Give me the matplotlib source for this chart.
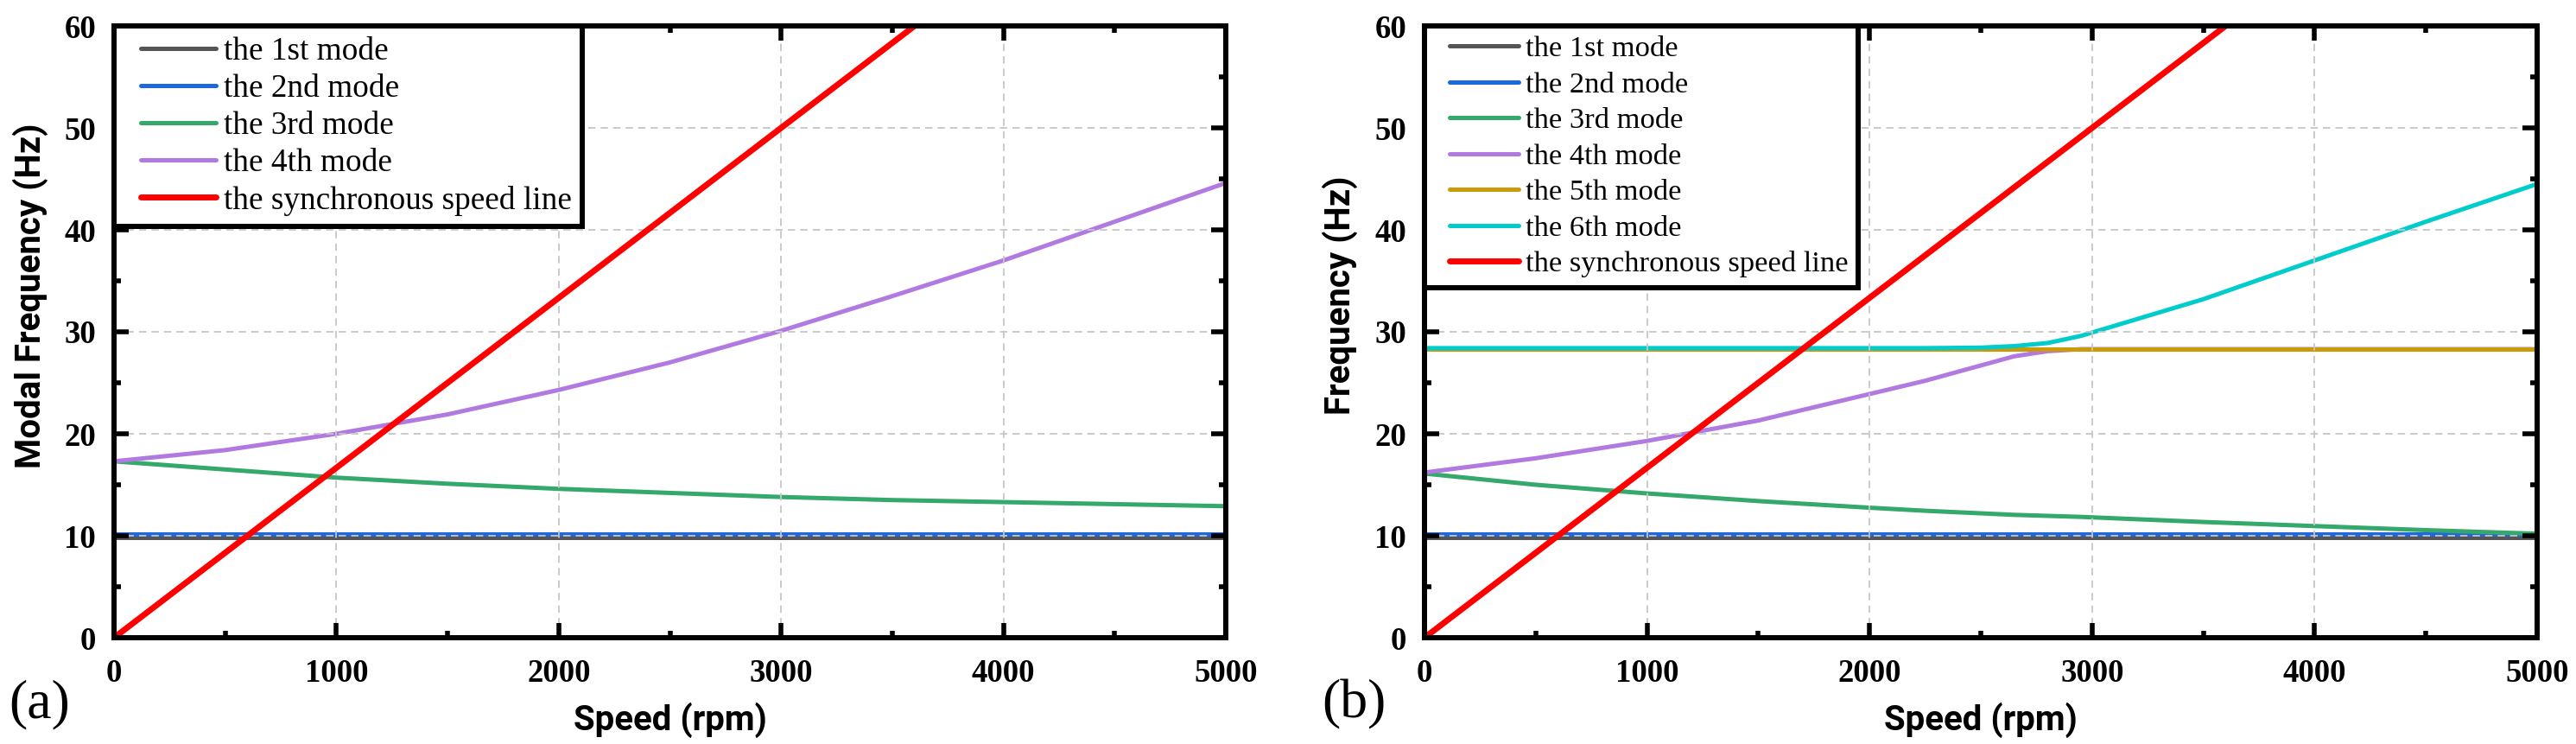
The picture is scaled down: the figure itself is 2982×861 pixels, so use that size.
import matplotlib
matplotlib.use("Agg")
import matplotlib.pyplot as plt
from matplotlib.ticker import MultipleLocator
from matplotlib.lines import Line2D
from matplotlib.legend_handler import HandlerLine2D

# ---------------- data ----------------
speed_a = [0, 500, 1000, 1500, 2000, 2500, 3000, 3500, 4000, 4500, 5000]
mode1_a = [9.8, 9.8, 9.8, 9.8, 9.8, 9.8, 9.8, 9.8, 9.8, 9.8, 9.8]
mode2_a = [10.15, 10.15, 10.15, 10.15, 10.15, 10.15, 10.15, 10.15, 10.15, 10.15, 10.15]
mode3_a = [17.3, 16.5, 15.7, 15.1, 14.6, 14.2, 13.8, 13.5, 13.3, 13.1, 12.9]
mode4_a = [17.3, 18.4, 20.0, 21.9, 24.3, 27.0, 30.1, 33.5, 37.0, 40.8, 44.6]

speed_b = [0, 500, 1000, 1500, 2000, 2250, 2500, 2650, 2800, 2950, 3500, 4000, 4500, 5000]
mode1_b = [9.8] * 14
mode2_b = [10.15] * 14
mode3_b = [16.1, 15.0, 14.15, 13.4, 12.75, 12.45, 12.2, 12.05, 11.95, 11.85, 11.35, 10.95, 10.55, 10.2]
mode4_b = [16.2, 17.6, 19.3, 21.3, 23.9, 25.2, 26.7, 27.6, 28.1, 28.3, 28.3, 28.3, 28.3, 28.3]
mode5_b = [28.3] * 14
mode6_b = [28.4, 28.4, 28.4, 28.4, 28.4, 28.4, 28.45, 28.6, 28.9, 29.6, 33.2, 37.0, 40.8, 44.5]

sync_speed = [0, 5000]
sync_freq = [0, 83.33]

labels_a = ["the 1st mode", "the 2nd mode", "the 3rd mode", "the 4th mode",
            "the synchronous speed line"]
labels_b = ["the 1st mode", "the 2nd mode", "the 3rd mode", "the 4th mode",
            "the 5th mode", "the 6th mode", "the synchronous speed line"]

x_ticks = [0, 1000, 2000, 3000, 4000, 5000]
y_ticks = [0, 10, 20, 30, 40, 50, 60]

colors = {"m1": "#555555", "m2": "#1c68dc", "m3": "#35a86c", "m4": "#b07ae0",
          "m5": "#cc9a06", "m6": "#00cccc", "sync": "#ff0000"}

# ---------------- figure ----------------
W, H, DPI = 2982, 861, 100
fig = plt.figure(figsize=(W / DPI, H / DPI), dpi=DPI)
fig.patch.set_facecolor("white")

serif = "Liberation Serif"
sans = "Roboto"
LW = 3.6
SYNC_LW = 5.0


def style_axes(ax, ylabel, leg_size, leg_spacing):
    ax.set_xlim(0, 5000)
    ax.set_ylim(0, 60)
    ax.set_xticks(x_ticks)
    ax.set_yticks(y_ticks)
    ax.xaxis.set_minor_locator(MultipleLocator(500))
    ax.yaxis.set_minor_locator(MultipleLocator(5))
    ax.tick_params(which="both", direction="in", top=True, right=True,
                   width=4.0, color="black")
    ax.tick_params(which="major", length=12, labelsize=26.5)
    ax.tick_params(axis="x", which="major", pad=17)
    ax.tick_params(axis="y", which="major", pad=15)
    ax.tick_params(which="minor", length=6)
    for lab in ax.get_xticklabels() + ax.get_yticklabels():
        lab.set_fontfamily(serif)
        lab.set_fontweight("bold")
    for s in ax.spines.values():
        s.set_linewidth(4.3)
        s.set_zorder(5)
    ax.set_axisbelow(False)
    ax.grid(True, which="major", color="#c6c6c6", linewidth=1.3,
            linestyle=(0, (4.7, 3.3)))
    ax.set_xlabel("Speed (rpm)", fontfamily=sans, fontweight="bold",
                  fontsize=29, va="center")
    ax.xaxis.set_label_coords(0.5, -0.135)
    ax.set_ylabel(ylabel, fontfamily=sans, fontweight="bold",
                  fontsize=29, va="center")
    ax.yaxis.set_label_coords(-0.0755, 0.559)
    leg = ax.legend(loc="upper left", bbox_to_anchor=(0, 1), borderaxespad=0,
                    prop={"family": serif, "size": leg_size},
                    handlelength=2.84, handletextpad=0.24,
                    labelspacing=leg_spacing,
                    borderpad=0.33, fancybox=False, framealpha=1,
                    edgecolor="black",
                    handler_map={Line2D: HandlerLine2D(xpad=0.5)})
    leg.get_frame().set_linewidth(4.3)
    leg.set_zorder(6)
    for ln in leg.get_lines():
        ln.set_solid_capstyle("round")


# panel (a)
ax1 = fig.add_axes([132 / W, 1 - 738 / H, 1287 / W, 708 / H])
ax1.plot(speed_a, mode1_a, color=colors["m1"], lw=LW, label=labels_a[0])
ax1.plot(speed_a, mode2_a, color=colors["m2"], lw=LW, label=labels_a[1])
ax1.plot(speed_a, mode3_a, color=colors["m3"], lw=LW, label=labels_a[2])
ax1.plot(speed_a, mode4_a, color=colors["m4"], lw=LW, label=labels_a[3])
ax1.plot(sync_speed, sync_freq, color=colors["sync"], lw=SYNC_LW,
         label=labels_a[4], zorder=3)
style_axes(ax1, "Modal Frequency (Hz)", 26.8, 0.23)

# panel (b)
ax2 = fig.add_axes([1649 / W, 1 - 738 / H, 1288 / W, 708 / H])
ax2.plot(speed_b, mode1_b, color=colors["m1"], lw=LW, label=labels_b[0])
ax2.plot(speed_b, mode2_b, color=colors["m2"], lw=LW, label=labels_b[1])
ax2.plot(speed_b, mode3_b, color=colors["m3"], lw=LW, label=labels_b[2])
ax2.plot(speed_b, mode4_b, color=colors["m4"], lw=LW, label=labels_b[3])
ax2.plot(speed_b, mode5_b, color=colors["m5"], lw=LW, label=labels_b[4])
ax2.plot(speed_b, mode6_b, color=colors["m6"], lw=LW, label=labels_b[5])
ax2.plot(sync_speed, sync_freq, color=colors["sync"], lw=SYNC_LW,
         label=labels_b[6], zorder=3)
style_axes(ax2, "Frequency (Hz)", 24.8, 0.3)

fig.text(46 / W, 1 - 815 / H, "(a)", fontfamily=serif, fontsize=46,
         ha="center", va="center")
fig.text(1567 / W, 1 - 815 / H, "(b)", fontfamily=serif, fontsize=46,
         ha="center", va="center")

fig.savefig("out.png", dpi=DPI, facecolor="white")
